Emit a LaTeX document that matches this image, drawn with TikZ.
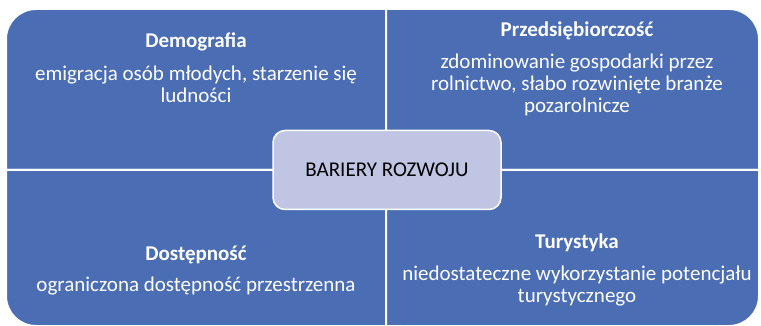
\documentclass[tikz,border=0pt]{standalone}
\usepackage{fontspec}
\setmainfont{Carlito}
\usetikzlibrary{positioning}
\definecolor{quadblue}{HTML}{4A6DB4}
\definecolor{hublav}{HTML}{BFC5E2}

\begin{document}
\begin{tikzpicture}[
    x=1pt, y=-1pt,
    every node/.style={font=\fontsize{21}{22}\selectfont},
    quad/.style={fill=quadblue, draw=white, line width=2pt},
    quadtext/.style={text=white, align=center, anchor=base, inner sep=0pt},
    hub/.style={
        draw=white, fill=hublav, line width=1.5pt, rounded corners=12pt,
        minimum width=228pt, minimum height=79pt, text=black
    },
]
\useasboundingbox (0,0) rectangle (761,326);

\coordinate (mid) at (386,170);

% === Quadrants (one rounded outer corner each) ===
\path[quad] (6,90) [rounded corners=30pt] -- (6,9) -- (100,9)
    [sharp corners] -- (386,9) -- (386,170) -- (6,170) -- cycle;
\path[quad] (672,9) [rounded corners=30pt] -- (759,9) -- (759,90)
    [sharp corners] -- (759,170) -- (386,170) -- (386,9) -- cycle;
\path[quad] (100,326) [rounded corners=30pt] -- (6,326) -- (6,250)
    [sharp corners] -- (6,170) -- (386,170) -- (386,326) -- cycle;
\path[quad] (759,250) [rounded corners=30pt] -- (759,326) -- (672,326)
    [sharp corners] -- (386,326) -- (386,170) -- (759,170) -- cycle;

% === Quadrant texts (placed at the baseline of the last line) ===
\node[quadtext] (demografia) at (196,103)
    {\textbf{Demografia}\\[11.5pt]emigracja osób młodych, starzenie się\\ludności};
\node[quadtext] (przedsiebiorczosc) at (577,113)
    {\textbf{Przedsiębiorczość}\\[10pt]zdominowanie gospodarki przez\\rolnictwo, słabo rozwinięte branże\\pozarolnicze};
\node[quadtext] (dostepnosc) at (196,291)
    {\textbf{Dostępność}\\[9pt]ograniczona dostępność przestrzenna};
\node[quadtext] (turystyka) at (577,302)
    {\textbf{Turystyka}\\[10pt]niedostateczne wykorzystanie potencjału\\turystycznego};

% === Centre ===
\node[hub] (bariery) at ([xshift=1pt]mid) {BARIERY ROZWOJU};

\end{tikzpicture}
\end{document}
